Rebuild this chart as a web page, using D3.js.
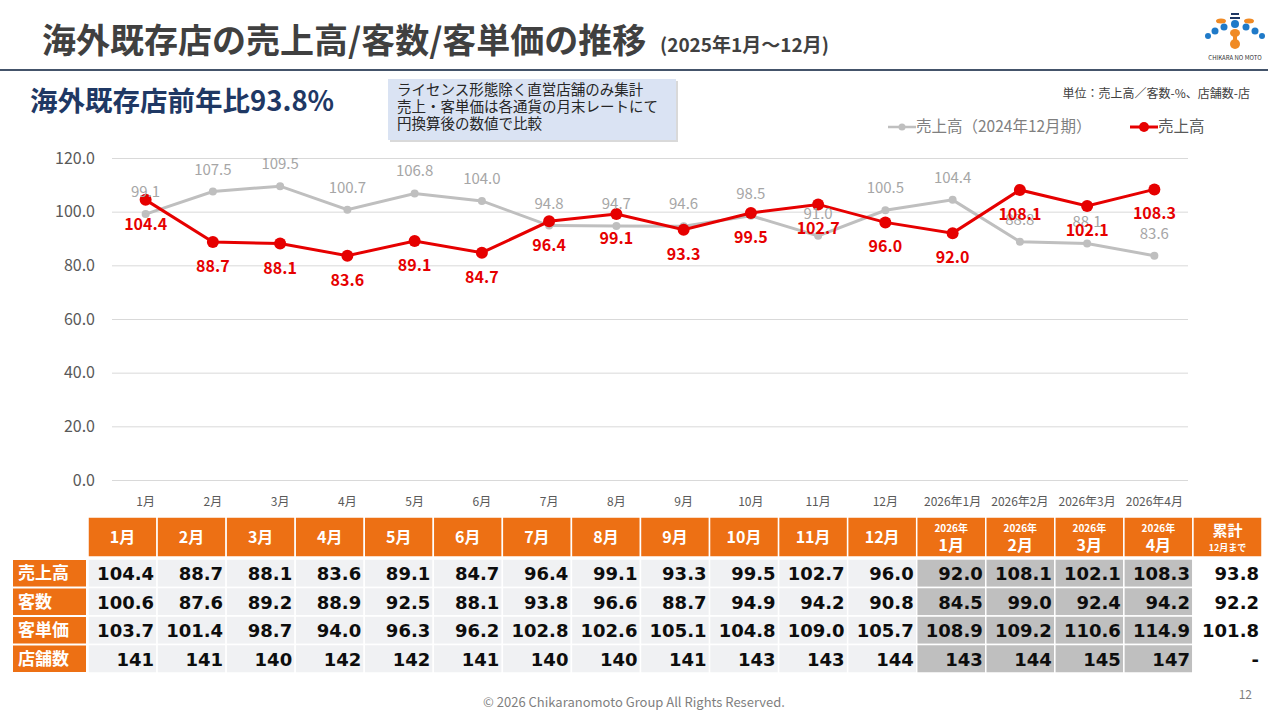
<!DOCTYPE html>
<html>
<head>
<meta charset="utf-8">
<script src="https://cdn.jsdelivr.net/npm/d3@7"></script>
<style>
  body { margin: 0; background: #fff; }
  svg { display: block; font-family: "Noto Sans CJK JP", "Noto Sans", sans-serif; }
</style>
</head>
<body>
<svg id="slide" width="1268" height="711"></svg>
<script>
// Chart categories and series
const months = ["1月", "2月", "3月", "4月", "5月", "6月", "7月", "8月", "9月", "10月", "11月", "12月",
  "2026年1月", "2026年2月", "2026年3月", "2026年4月"];
const salesPrev = [99.1, 107.5, 109.5, 100.7, 106.8, 104.0, 94.8, 94.7, 94.6, 98.5, 91.0, 100.5, 104.4, 88.8, 88.1, 83.6];
const sales = [104.4, 88.7, 88.1, 83.6, 89.1, 84.7, 96.4, 99.1, 93.3, 99.5, 102.7, 96.0, 92.0, 108.1, 102.1, 108.3];
const yTicks = [0, 20, 40, 60, 80, 100, 120];

// Table values
const tableHeaders = ["1月", "2月", "3月", "4月", "5月", "6月", "7月", "8月", "9月", "10月", "11月", "12月",
  "2026年1月", "2026年2月", "2026年3月", "2026年4月", "累計"];
const rowLabels = ["売上高", "客数", "客単価", "店舗数"];
const rowSales = ["104.4", "88.7", "88.1", "83.6", "89.1", "84.7", "96.4", "99.1", "93.3", "99.5", "102.7", "96.0", "92.0", "108.1", "102.1", "108.3", "93.8"];
const rowCustomers = ["100.6", "87.6", "89.2", "88.9", "92.5", "88.1", "93.8", "96.6", "88.7", "94.9", "94.2", "90.8", "84.5", "99.0", "92.4", "94.2", "92.2"];
const rowSpend = ["103.7", "101.4", "98.7", "94.0", "96.3", "96.2", "102.8", "102.6", "105.1", "104.8", "109.0", "105.7", "108.9", "109.2", "110.6", "114.9", "101.8"];
const rowStores = ["141", "141", "140", "142", "142", "141", "140", "140", "141", "143", "143", "144", "143", "144", "145", "147", "-"];

const orange = "#ED7014";
const red = "#E60000";
const grey = "#BFBFBF";

const svg = d3.select("#slide");

// Title and header rule
svg.append("text")
  .attr("x", 42).attr("y", 53)
  .style("font-size", "34px").style("font-weight", "bold").style("fill", "#404040")
  .text("海外既存店の売上高/客数/客単価の推移");
svg.append("text")
  .attr("x", 660).attr("y", 52)
  .style("font-size", "19px").style("font-weight", "bold").style("fill", "#404040")
  .text("(2025年1月～12月)");
svg.append("line")
  .attr("x1", 0).attr("x2", 1268).attr("y1", 70).attr("y2", 70)
  .attr("stroke", "#44546A").attr("stroke-width", 2);

// Logo (simplified)
const logo = svg.append("g").attr("transform", "translate(1235,0)");
logo.append("rect").attr("x", -4).attr("y", 13).attr("width", 8).attr("height", 2).attr("fill", "#1F3864");
logo.append("rect").attr("x", -5).attr("y", 17).attr("width", 10).attr("height", 2).attr("fill", "#1F3864");
[[-14, 21], [14, 21]].forEach(p => logo.append("ellipse").attr("cx", p[0]).attr("cy", p[1]).attr("rx", 5).attr("ry", 2.5).attr("fill", "#F08A24"));
[[0, 24, 4], [-11, 27, 3.5], [11, 27, 3.5], [-20, 31, 3.5], [20, 31, 3.5], [-27, 36, 3], [27, 36, 3]]
  .forEach(p => logo.append("circle").attr("cx", p[0]).attr("cy", p[1]).attr("r", p[2]).attr("fill", "#1F7AC8"));
logo.append("ellipse").attr("cx", 0).attr("cy", 33).attr("rx", 5).attr("ry", 4).attr("fill", "#F08A24");
logo.append("ellipse").attr("cx", 0).attr("cy", 44).attr("rx", 5).attr("ry", 5).attr("fill", "#F08A24");
logo.append("rect").attr("x", -2).attr("y", 33).attr("width", 4).attr("height", 10).attr("fill", "#F08A24");
logo.append("text").attr("x", 0).attr("y", 60).attr("text-anchor", "middle")
  .style("font-size", "6px").style("fill", "#333").text("CHIKARA NO MOTO");

// Subtitle
svg.append("text")
  .attr("x", 30).attr("y", 111)
  .style("font-size", "27.5px").style("font-weight", "bold").style("fill", "#1F3864")
  .text("海外既存店前年比93.8%");

// Note box
svg.append("rect")
  .attr("x", 390).attr("y", 81).attr("width", 288).attr("height", 61)
  .attr("fill", "#BFBFBF").attr("opacity", 0.6);
svg.append("rect")
  .attr("x", 388).attr("y", 79).attr("width", 288).attr("height", 61)
  .attr("fill", "#DAE3F3");
["ライセンス形態除く直営店舗のみ集計", "売上・客単価は各通貨の月末レートにて", "円換算後の数値で比較"]
  .forEach((t, i) => svg.append("text")
    .attr("x", 397).attr("y", 95 + i * 17)
    .style("font-size", "14.5px").style("fill", "#262626").text(t));

// Unit
svg.append("text")
  .attr("x", 1250).attr("y", 98).attr("text-anchor", "end")
  .style("font-size", "12px").style("fill", "#404040")
  .text("単位：売上高／客数-%、店舗数-店");

// Legend
const legend = [
  { x: 888, label: "売上高（2024年12月期）", color: grey, r: 3.5, w: 2.5, tc: "#7F7F7F" },
  { x: 1130, label: "売上高", color: red, r: 5, w: 3, tc: "#595959" }
];
legend.forEach(l => {
  svg.append("line").attr("x1", l.x).attr("x2", l.x + 28).attr("y1", 127).attr("y2", 127)
    .attr("stroke", l.color).attr("stroke-width", l.w);
  svg.append("circle").attr("cx", l.x + 14).attr("cy", 127).attr("r", l.r).attr("fill", l.color);
  svg.append("text").attr("x", l.x + 28).attr("y", 132)
    .style("font-size", "15.5px").style("fill", l.tc).text(l.label);
});

// Scales
const x = d3.scaleBand().domain(months).range([112, 1188]);
const y = d3.scaleLinear().domain([0, 120]).range([480, 158]);
const cx = d => x(d) + x.bandwidth() / 2;

// Grid + y axis
const yAxis = svg.append("g")
  .attr("transform", "translate(112,0)")
  .call(d3.axisLeft(y).tickValues(yTicks).tickFormat(d3.format(".1f")).tickSize(-1076).tickPadding(17));
yAxis.select(".domain").remove();
yAxis.selectAll(".tick line").attr("stroke", "#D9D9D9");
yAxis.selectAll(".tick text")
  .style("font-size", "16px").style("fill", "#595959")
  .style("font-family", "'Noto Sans CJK JP', sans-serif");

// X labels
svg.append("g").selectAll("text").data(months).join("text")
  .attr("x", d => cx(d)).attr("y", 506).attr("text-anchor", "middle")
  .style("font-size", "12px").style("fill", "#595959").text(d => d);

// Lines
const line = d3.line().x((d, i) => cx(months[i])).y(d => y(d));
svg.append("path").datum(salesPrev).attr("d", line)
  .attr("fill", "none").attr("stroke", grey).attr("stroke-width", 3);
svg.append("g").selectAll("circle").data(salesPrev).join("circle")
  .attr("cx", (d, i) => cx(months[i])).attr("cy", d => y(d)).attr("r", 4).attr("fill", grey);

svg.append("path").datum(sales).attr("d", line)
  .attr("fill", "none").attr("stroke", red).attr("stroke-width", 3);
svg.append("g").selectAll("circle").data(sales).join("circle")
  .attr("cx", (d, i) => cx(months[i])).attr("cy", d => y(d)).attr("r", 6).attr("fill", red);

// Data labels
svg.append("g").selectAll("text").data(salesPrev).join("text")
  .attr("x", (d, i) => cx(months[i])).attr("y", d => y(d) - 17)
  .attr("text-anchor", "middle")
  .style("font-size", "15px").style("fill", "#A6A6A6").text(d => d.toFixed(1));
svg.append("g").selectAll("text").data(sales).join("text")
  .attr("x", (d, i) => cx(months[i])).attr("y", d => y(d) + 30)
  .attr("text-anchor", "middle")
  .style("font-size", "16px").style("font-weight", "bold").style("fill", red).text(d => d.toFixed(1));

// Table
const colX = d3.scaleBand().domain(tableHeaders).range([88, 1262]);
const rowY = d3.scaleBand().domain(rowLabels).range([559, 673]);
const rows = [rowSales, rowCustomers, rowSpend, rowStores];

const head = svg.append("g").selectAll("g").data(tableHeaders).join("g")
  .attr("transform", d => `translate(${colX(d)},517)`);
head.append("rect")
  .attr("width", colX.bandwidth()).attr("height", 40).attr("fill", orange)
  .attr("stroke", "#fff").attr("stroke-width", 1.5);
head.each(function (d, i) {
  const g = d3.select(this);
  const mid = colX.bandwidth() / 2;
  if (d.startsWith("2026年")) {
    g.append("text").attr("x", mid).attr("y", 15).attr("text-anchor", "middle")
      .style("font-size", "10px").style("font-weight", "bold").style("fill", "#fff").text("2026年");
    g.append("text").attr("x", mid).attr("y", 34).attr("text-anchor", "middle")
      .style("font-size", "16px").style("font-weight", "bold").style("fill", "#fff").text(d.replace("2026年", ""));
  } else if (d === "累計") {
    g.append("text").attr("x", mid).attr("y", 19).attr("text-anchor", "middle")
      .style("font-size", "15px").style("font-weight", "bold").style("fill", "#fff").text("累計");
    g.append("text").attr("x", mid).attr("y", 34).attr("text-anchor", "middle")
      .style("font-size", "9px").style("font-weight", "bold").style("fill", "#fff").text("12月まで");
  } else {
    g.append("text").attr("x", mid).attr("y", 26).attr("text-anchor", "middle")
      .style("font-size", "16px").style("font-weight", "bold").style("fill", "#fff").text(d);
  }
});

rowLabels.forEach((label, r) => {
  const ry = rowY(label);
  const h = rowY.bandwidth();
  svg.append("rect").attr("x", 13).attr("y", ry + 1).attr("width", 73).attr("height", h - 2).attr("fill", orange);
  svg.append("text").attr("x", 18).attr("y", ry + h / 2 + 6)
    .style("font-size", "17px").style("font-weight", "bold").style("fill", "#fff").text(label);
  svg.append("g").selectAll("rect").data(rows[r]).join("rect")
    .attr("x", (d, i) => colX(tableHeaders[i])).attr("y", ry)
    .attr("width", colX.bandwidth()).attr("height", h)
    .attr("fill", (d, i) => i >= 12 && i < 16 ? "#BFBFBF" : (i === 16 ? "#FFFFFF" : "#F0F1F3"))
    .attr("stroke", "#fff").attr("stroke-width", 1.5);
  svg.append("g").selectAll("text").data(rows[r]).join("text")
    .attr("x", (d, i) => colX(tableHeaders[i]) + colX.bandwidth() - 3).attr("y", ry + h / 2 + 7)
    .attr("text-anchor", "end")
    .style("font-family", "'DejaVu Sans', sans-serif")
    .style("font-size", "18px").style("font-weight", "bold").style("fill", "#0D0D0D").text(d => d);
});

// Footer
svg.append("text").attr("x", 634).attr("y", 707).attr("text-anchor", "middle")
  .style("font-size", "13px").style("fill", "#7F7F7F")
  .text("© 2026 Chikaranomoto Group All Rights Reserved.");
svg.append("text").attr("x", 1252).attr("y", 699).attr("text-anchor", "end")
  .style("font-size", "12px").style("fill", "#7F7F7F").text("12");
</script>
</body>
</html>
